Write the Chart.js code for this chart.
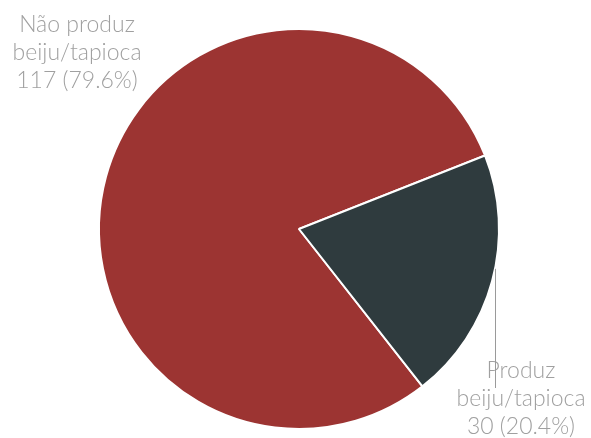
<!DOCTYPE html>
<html>
<head>
<meta charset="utf-8">
<script src="https://cdn.jsdelivr.net/npm/chart.js@4"></script>
<style>
  html, body { margin: 0; padding: 0; background: #fff; }
  #wrap { width: 591px; height: 438px; }
</style>
</head>
<body>
<div id="wrap"><canvas id="pie"></canvas></div>
<script>
// data
const categories = ["Não produz beiju/tapioca", "Produz beiju/tapioca"];
const labelLines = [["Não produz", "beiju/tapioca"], ["Produz", "beiju/tapioca"]];
const counts = [117, 30];
const sliceColors = ["#9c3432", "#2f3b3e"];

const total = counts.reduce((a, b) => a + b, 0);

// draws the two outside labels and the leader line for the small slice
const pieLabels = {
  id: "pieLabels",
  afterDraw(chart) {
    const ctx = chart.ctx;
    const arcs = chart.getDatasetMeta(0).data;
    ctx.save();
    ctx.font = "300 23px Lato";
    ctx.fillStyle = "#a0a0a0";
    ctx.textAlign = "center";
    ctx.textBaseline = "middle";

    const spots = [{ x: 77, y: 25 }, { x: 521, y: 371 }];
    for (let i = 0; i < counts.length; i++) {
      const pct = (counts[i] / total * 100).toFixed(1);
      const lines = labelLines[i].concat([counts[i] + " (" + pct + "%)"]);
      for (let j = 0; j < lines.length; j++) {
        ctx.fillText(lines[j], spots[i].x, spots[i].y + j * 28);
      }
    }

    // leader line from the edge of the small slice down to its label
    const arc = arcs[1];
    const lineX = 495;
    const dx = lineX - arc.x;
    const r = arc.outerRadius;
    const startY = arc.y + Math.sqrt(Math.max(r * r - dx * dx, 0));
    ctx.strokeStyle = "#9a9a9a";
    ctx.lineWidth = 1;
    ctx.beginPath();
    ctx.moveTo(lineX + 0.5, startY);
    ctx.lineTo(lineX + 0.5, 388);
    ctx.stroke();
    ctx.restore();
  }
};

new Chart(document.getElementById("pie"), {
  type: "pie",
  data: {
    labels: categories,
    datasets: [{
      data: counts,
      backgroundColor: sliceColors,
      borderColor: "#ffffff",
      borderWidth: 2
    }]
  },
  options: {
    responsive: true,
    maintainAspectRatio: false,
    animation: false,
    rotation: 141.9,
    layout: { padding: { top: 28, bottom: 8, left: 7, right: 0 } },
    plugins: {
      legend: { display: false },
      tooltip: { enabled: false }
    }
  },
  plugins: [pieLabels]
});
</script>
</body>
</html>
